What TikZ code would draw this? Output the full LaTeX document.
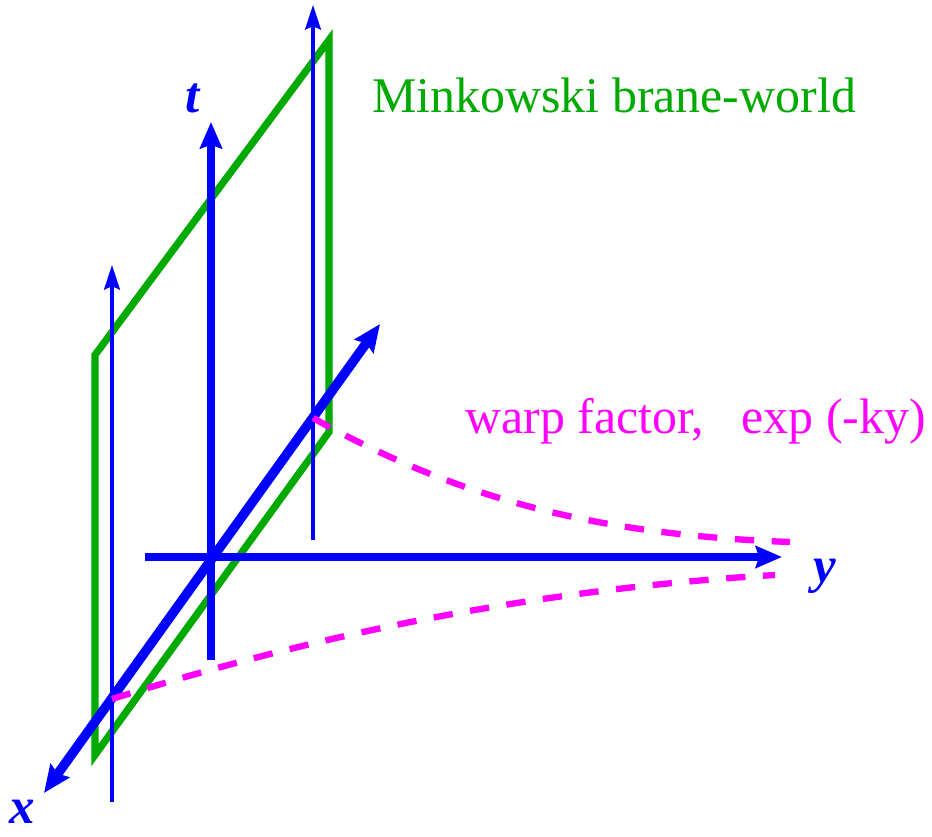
\documentclass[tikz,border=0pt]{standalone}
\usepackage{fontspec}
\setmainfont{Liberation Serif}
\usepackage{xcolor}
\usepackage{tikz}
\usetikzlibrary{arrows.meta}

\definecolor{branegreen}{RGB}{0,170,0}
\definecolor{warpmagenta}{RGB}{255,0,255}
\tikzset{
	axis/.style={blue, line width=4.8pt, -{Stealth[length=15pt, width=12.5pt, inset=2pt]}},
	bothaxis/.style={blue, line width=5.4pt, {Stealth[length=15.5pt, width=13pt, inset=2pt]}-{Stealth[length=15.5pt, width=13pt, inset=2pt]}},
	fibre/.style={blue, line width=1.9pt, -{Stealth[length=14pt, width=9pt, inset=2pt]}},
	brane/.style={branegreen, line width=4.1pt, line join=miter},
	warp/.style={warpmagenta, line width=3.6pt, dash pattern=on 11pt off 10pt},
	axislabel/.style={blue, font=\fontsize{29}{30}\selectfont\bfseries\itshape, inner sep=0pt},
	caption/.style={font=\fontsize{28.4}{30}\selectfont, inner sep=0pt, anchor=base west}
}

\begin{document}
\begin{tikzpicture}[x=0.02cm, y=-0.02cm]
			\useasboundingbox (0, 0) rectangle (932, 837);
			% Points of the brane, the axes and the fibres:
			\coordinate (B1) at (95, 355);
			\coordinate (B2) at (329, 40);
			\coordinate (B3) at (329, 432);
			\coordinate (B4) at (95, 755);
			\coordinate (Tbot) at (211, 660);
			\coordinate (Ttop) at (211, 122);
			\coordinate (Yleft) at (145, 557);
			\coordinate (Yright) at (782, 557);
			\coordinate (Xfar) at (380, 324);
			\coordinate (Xnear) at (44, 793);
			\coordinate (F1bot) at (112, 802);
			\coordinate (F1top) at (112, 265);
			\coordinate (F2bot) at (313, 540);
			\coordinate (F2top) at (313, 5);
			\coordinate (W1) at (313, 418);
			\coordinate (W2) at (790, 542);
			\coordinate (W3) at (112, 699);
			\coordinate (W4) at (775, 575);
			% Brane:
			\draw[brane] (B1) -- (B2) -- (B3) -- (B4) -- cycle;
			% Axes:
			\draw[axis] (Tbot) -- (Ttop);
			\draw[axis] (Yleft) -- (Yright);
			\draw[bothaxis] (Xfar) -- (Xnear);
			\draw[fibre] (F1bot) -- (F1top);
			\draw[fibre] (F2bot) -- (F2top);
			% Warp factor:
			\draw[warp] (W1) .. controls (460, 500) and (600, 535) .. (W2);
			\draw[warp] (W3) .. controls (300, 640) and (520, 590) .. (W4);
			% Labels:
			\node[axislabel](Lt) at (193, 98){t};
			\node[axislabel](Ly) at (825, 576){y};
			\node[axislabel](Lx) at (22, 812){x};
			\node[caption, branegreen](Nbrane) at (372, 113){Minkowski brane-world};
			\node[caption, warpmagenta](Nwarp) at (465, 433){warp factor,\hspace{0.75em}exp (-ky)};
		\end{tikzpicture}
\end{document}
